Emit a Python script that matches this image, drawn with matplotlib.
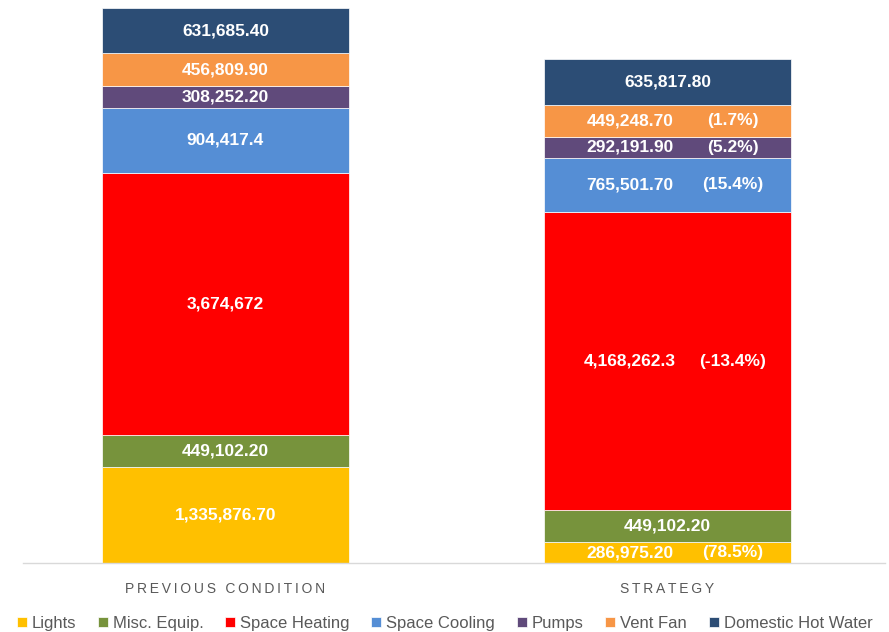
import matplotlib.pyplot as plt
import numpy as np

plt.rcParams['font.family'] = ['Liberation Sans', 'DejaVu Sans']

scenarios = ["PREVIOUS CONDITION", "STRATEGY"]
categories = ["Lights", "Misc. Equip.", "Space Heating", "Space Cooling",
              "Pumps", "Vent Fan", "Domestic Hot Water"]
previous = [1335876.7, 449102.2, 3674672, 904417.4, 308252.2, 456809.9, 631685.4]
strategy = [286975.2, 449102.2, 4168262.3, 765501.7, 292191.9, 449248.7, 635817.8]
prev_labels = ["1,335,876.70", "449,102.20", "3,674,672", "904,417.4",
               "308,252.20", "456,809.90", "631,685.40"]
strat_labels = ["286,975.20", "449,102.20", "4,168,262.3", "765,501.70",
                "292,191.90", "449,248.70", "635,817.80"]
strat_pct = ["(78.5%)", "", "(-13.4%)", "(15.4%)", "(5.2%)", "(1.7%)", ""]
colors = ["#FFC000", "#77933C", "#FF0000", "#558ED5", "#604A7B", "#F79646", "#2C4D75"]

fig = plt.figure(figsize=(8.89, 6.32), dpi=100)
ax = fig.add_axes([23 / 889, 69 / 632, 862 / 889, 558 / 632])

x = np.arange(len(scenarios))
width = 0.559
bottoms = np.zeros(len(scenarios))
for i, cat in enumerate(categories):
    vals = np.array([previous[i], strategy[i]])
    ax.bar(x, vals, width, bottom=bottoms, color=colors[i], label=cat,
           edgecolor="white", linewidth=0.5)
    # etiquetas dos segmentos
    ax.text(x[0], bottoms[0] + vals[0] / 2, prev_labels[i], ha="center", va="center",
            color="white", fontsize=12.5, fontweight="bold")
    if strat_pct[i]:
        ax.text(x[1] - 0.085, bottoms[1] + vals[1] / 2, strat_labels[i], ha="center",
                va="center", color="white", fontsize=12.5, fontweight="bold")
        ax.text(x[1] + 0.148, bottoms[1] + vals[1] / 2, strat_pct[i], ha="center",
                va="center", color="white", fontsize=12.5, fontweight="bold")
    else:
        ax.text(x[1], bottoms[1] + vals[1] / 2, strat_labels[i], ha="center",
                va="center", color="white", fontsize=12.5, fontweight="bold")
    bottoms += vals

ax.set_xlim(-0.458, 1.492)
ax.set_ylim(0, sum(previous) * 558 / 555)
ax.set_xticks(x)
ax.set_xticklabels(["\u2009".join(s) for s in scenarios], color="#595959", fontsize=10)
ax.tick_params(axis="x", length=0, pad=14)
ax.set_yticks([])
for side in ["left", "right", "top"]:
    ax.spines[side].set_visible(False)
ax.spines["bottom"].set_color("#D9D9D9")
ax.spines["bottom"].set_linewidth(1)

fig.legend(loc="lower center", bbox_to_anchor=(0.5, -0.022), ncol=7, frameon=False,
           fontsize=12, handlelength=0.6, handleheight=0.6, handletextpad=0.3,
           columnspacing=1.3, labelcolor="#595959")

fig.savefig("out.png", dpi=100)
plt.close(fig)
